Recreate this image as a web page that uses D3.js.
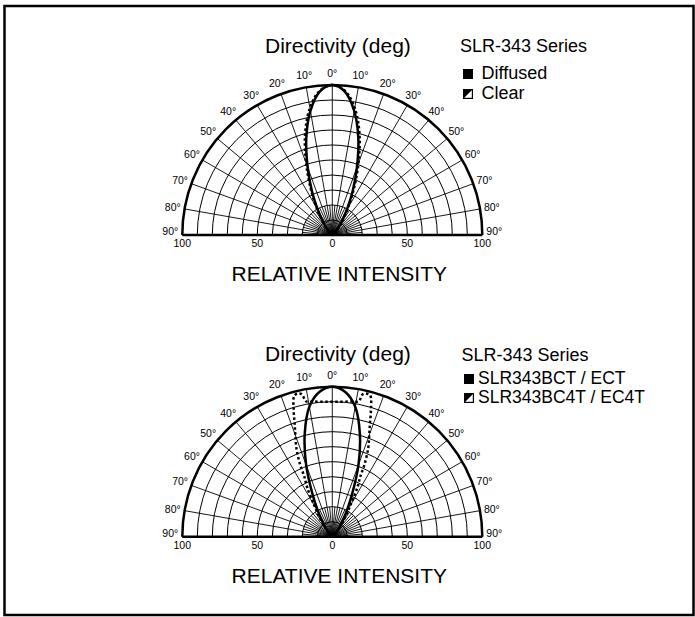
<!DOCTYPE html>
<html>
<head>
<meta charset="utf-8">
<script src="https://cdn.jsdelivr.net/npm/d3@7"></script>
<style>
  body { margin: 0; background: #fff; }
  text { font-family: Arial, "Liberation Sans", sans-serif; fill: #000; }
</style>
</head>
<body>
<svg width="695" height="617"></svg>
<script>
// angle ticks and intensity ticks
const degTicks = [0, 10, 20, 30, 40, 50, 60, 70, 80, 90];
const intensityTicks = [-100, -50, 0, 50, 100];

// top panel: SLR-343 Series, Diffused / Clear (relative intensity % by angle)
const topAngles = [0, 5, 10, 15, 20, 25, 30, 35, 40, 45, 50, 60, 70, 80, 90];
const diffused  = [100, 96, 84, 67, 48, 32, 19, 11, 6, 3, 1.5, 0.5, 0, 0, 0];
const clear     = [100, 96.5, 86, 70, 51, 34, 21, 12, 7, 3, 1.5, 0.5, 0, 0, 0];

// bottom panel: SLR343BCT / ECT and SLR343BC4T / EC4T
const bctAngles = [0, 5, 10, 15, 20, 25, 30, 35, 40, 45, 50, 60, 70, 80, 90];
const bct       = [100, 97, 88, 71, 51, 31, 18, 10, 5, 2.5, 1, 0.3, 0, 0, 0];
const bc4tAngles = [0, 4, 8, 11, 12, 13, 15, 17, 18.5, 20, 22, 24, 25, 27, 30, 35, 40, 45, 50, 60, 90];
const bc4t       = [90, 90.2, 91, 92, 97, 98, 97.5, 88, 79, 72, 64, 53, 44, 37, 24, 13, 6, 3, 1, 0, 0];

const svg = d3.select("svg");
const R = 150;

// frame
svg.append("rect")
    .attr("x", 4.5).attr("y", 6)
    .attr("width", 689).attr("height", 609)
    .attr("fill", "none")
    .attr("stroke", "#000")
    .attr("stroke-width", 2.5);

const rScale = d3.scaleLinear().domain([0, 100]).range([0, R]);
const aScale = d3.scaleLinear().domain([-90, 90]).range([-Math.PI / 2, Math.PI / 2]);

function mirror(angles, vals) {
    let pts = [];
    for (let i = angles.length - 1; i > 0; i--) pts.push([-angles[i], vals[i]]);
    angles.forEach((a, i) => pts.push([a, vals[i]]));
    return pts;
}

function drawPanel(cx, cy, opts) {
    const g = svg.append("g").attr("transform", `translate(${cx},${cy})`);
    const xScale = d3.scaleLinear().domain([-100, 100]).range([-R, R]);

    // rings
    for (let v = 10; v <= 100; v += 10) {
        const p = d3.path();
        p.arc(0, 0, rScale(v), Math.PI, 2 * Math.PI);
        g.append("path")
            .attr("d", p.toString())
            .attr("fill", "none")
            .attr("stroke", "#000")
            .attr("stroke-width", v === 100 ? 2.5 : 1);
    }

    // spokes every 10 deg, plus short ones every 5 deg near center
    for (let a = -90; a <= 90; a += 5) {
        const full = a % 10 === 0;
        const rr = full ? R : rScale(20);
        const t = aScale(a);
        g.append("line")
            .attr("x1", 0).attr("y1", 0)
            .attr("x2", rr * Math.sin(t)).attr("y2", -rr * Math.cos(t))
            .attr("stroke", "#000")
            .attr("stroke-width", 0.9);
    }

    // baseline
    g.append("line")
        .attr("x1", -R).attr("x2", R)
        .attr("y1", 0).attr("y2", 0)
        .attr("stroke", "#000")
        .attr("stroke-width", 2.5);

    // degree labels
    degTicks.forEach(d => {
        [-1, 1].forEach(s => {
            if (d === 0 && s < 0) return;
            const t = aScale(s * d);
            const rr = R + 12;
            g.append("text")
                .attr("x", rr * Math.sin(t))
                .attr("y", -rr * Math.cos(t) - (d === 90 ? 4 : 0))
                .attr("text-anchor", "middle")
                .attr("dominant-baseline", "central")
                .attr("font-size", 10.5)
                .text(d + "°");
        });
    });

    // intensity labels
    intensityTicks.forEach(v => {
        g.append("text")
            .attr("x", xScale(v))
            .attr("y", 12)
            .attr("text-anchor", "middle")
            .attr("font-size", 10.5)
            .text(Math.abs(v));
    });

    // curves
    const line = d3.lineRadial()
        .angle(d => aScale(d[0]))
        .radius(d => rScale(d[1]))
        .curve(d3.curveCatmullRom);

    opts.series.forEach(s => {
        g.append("path")
            .attr("d", line(mirror(s.angles, s.values)))
            .attr("fill", "none")
            .attr("stroke", "#000")
            .attr("stroke-width", 2.5)
            .attr("stroke-dasharray", s.dashed ? "2.5,2.5" : null);
    });

    // titles
    g.append("text")
        .attr("x", 265 - cx).attr("y", opts.titleY - cy)
        .attr("font-size", 21)
        .text("Directivity (deg)");
    g.append("text")
        .attr("x", 7).attr("y", 46)
        .attr("text-anchor", "middle")
        .attr("font-size", 21)
        .text("RELATIVE INTENSITY");

    // legend
    const lg = svg.append("g");
    lg.append("text")
        .attr("x", opts.legend.x).attr("y", opts.legend.titleY)
        .attr("font-size", 18)
        .text("SLR-343 Series");
    opts.series.forEach((s, i) => {
        const y = opts.legend.rowY[i];
        const bx = opts.legend.boxX, by = y - 10;
        if (!s.dashed) {
            lg.append("rect").attr("x", bx).attr("y", by)
                .attr("width", 10).attr("height", 10).attr("fill", "#000");
        } else {
            lg.append("rect").attr("x", bx + 0.6).attr("y", by + 0.6)
                .attr("width", 8.8).attr("height", 8.8)
                .attr("fill", "#fff").attr("stroke", "#000").attr("stroke-width", 1.2);
            lg.append("path")
                .attr("d", `M${bx},${by}H${bx + 10}L${bx},${by + 10}Z`)
                .attr("fill", "#000");
        }
        lg.append("text")
            .attr("x", opts.legend.textX).attr("y", y)
            .attr("font-size", opts.legend.size)
            .text(s.name);
    });
}

drawPanel(332.3, 235, {
    titleY: 53,
    series: [
        { name: "Diffused", angles: topAngles, values: diffused, dashed: false },
        { name: "Clear", angles: topAngles, values: clear, dashed: true }
    ],
    legend: { x: 460, titleY: 51.5, boxX: 463, textX: 481.5, rowY: [79, 99], size: 18 }
});

drawPanel(332.3, 536.7, {
    titleY: 361,
    series: [
        { name: "SLR343BCT / ECT", angles: bctAngles, values: bct, dashed: false },
        { name: "SLR343BC4T / EC4T", angles: bc4tAngles, values: bc4t, dashed: true }
    ],
    legend: { x: 461.5, titleY: 361, boxX: 464, textX: 478, rowY: [384, 403], size: 17.5 }
});
</script>
</body>
</html>
